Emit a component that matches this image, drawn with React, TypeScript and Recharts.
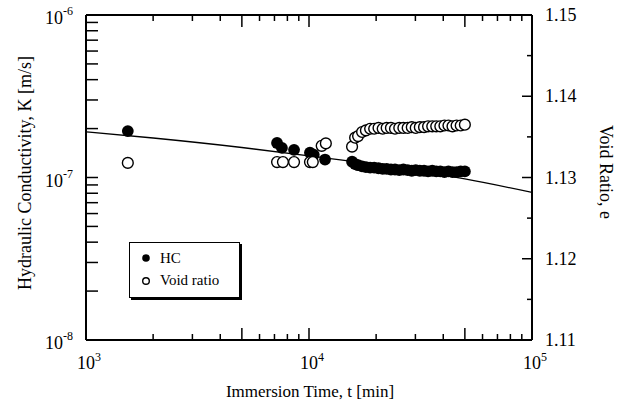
import {
  ComposedChart,
  Scatter,
  Line,
  XAxis,
  YAxis,
  ReferenceLine,
  Legend,
} from 'recharts';

const FONT = '"Liberation Serif", "Times New Roman", serif';
const PLOT = { left: 86, right: 532, top: 15, bottom: 340 };

// hydraulic conductivity (filled circles)
const hcTimes = [
  1540, 7190, 7560, 8570, 10100, 10500, 11800,
  15600, 16100, 16600, 17300, 18000, 18800, 19600, 20500, 21400, 22300,
  23300, 24300, 25400, 26500, 27700, 28900, 30100, 31400, 32800, 34200,
  35700, 37200, 38800, 40500, 42200, 44000, 45900, 47900, 50000,
];
const hcValues = [
  1.93e-7, 1.63e-7, 1.52e-7, 1.48e-7, 1.42e-7, 1.38e-7, 1.29e-7,
  1.25e-7, 1.21e-7, 1.19e-7, 1.17e-7, 1.16e-7, 1.15e-7, 1.15e-7, 1.14e-7, 1.13e-7, 1.13e-7,
  1.12e-7, 1.12e-7, 1.11e-7, 1.12e-7, 1.11e-7, 1.1e-7, 1.11e-7, 1.1e-7, 1.1e-7, 1.09e-7,
  1.1e-7, 1.09e-7, 1.09e-7, 1.08e-7, 1.09e-7, 1.08e-7, 1.08e-7, 1.09e-7, 1.09e-7,
];

// void ratio (open circles)
const voidTimes = [
  1540, 7190, 7640, 8570, 10100, 10400, 11400, 11900,
  15600, 16100, 16600, 17300, 18000, 18800, 19600, 20500, 21400, 22300,
  23300, 24300, 25400, 26500, 27700, 28900, 30100, 31400, 32800, 34200,
  35700, 37200, 38800, 40500, 42200, 44000, 45900, 47900, 50000,
];
const voidValues = [
  1.1318, 1.1319, 1.1319, 1.1319, 1.1319, 1.1319, 1.1339, 1.1342,
  1.1338, 1.1349, 1.1351, 1.1356, 1.1358, 1.136, 1.136, 1.1361, 1.136, 1.1361,
  1.1361, 1.136, 1.1361, 1.1361, 1.1361, 1.1362, 1.1361, 1.1362, 1.1362, 1.1363,
  1.1363, 1.1363, 1.1363, 1.1364, 1.1364, 1.1363, 1.1364, 1.1364, 1.1365,
];

// fitted trend line
const trendTimes = [1000, 2000, 5000, 10000, 20000, 50000, 100000];
const trendValues = [1.91e-7, 1.75e-7, 1.53e-7, 1.36e-7, 1.2e-7, 0.98e-7, 0.81e-7];

const xTicks = [
  1000, 2000, 3000, 4000, 5000, 6000, 7000, 8000, 9000,
  10000, 20000, 30000, 40000, 50000, 60000, 70000, 80000, 90000, 100000,
];
const kTicks = [
  1e-8, 2e-8, 3e-8, 4e-8, 5e-8, 6e-8, 7e-8, 8e-8, 9e-8,
  1e-7, 2e-7, 3e-7, 4e-7, 5e-7, 6e-7, 7e-7, 8e-7, 9e-7, 1e-6,
];
const eTicks = [1.11, 1.115, 1.12, 1.125, 1.13, 1.135, 1.14, 1.145, 1.15];

const legendNames = ['HC', 'Void ratio'];

const hcData = hcTimes.map((t, i) => ({ t, k: hcValues[i] }));
const voidData = voidTimes.map((t, i) => ({ t, e: voidValues[i] }));
const trendData = trendTimes.map((t, i) => ({ t, k: trendValues[i] }));

const isDecade = (v: number) => {
  const p = Math.log10(v);
  return Math.abs(p - Math.round(p)) < 1e-6;
};

function XTick({ x, payload }: any) {
  const v = payload.value;
  const exp = Math.log10(v);
  const decade = isDecade(v);
  const major = decade || Math.round(v / 10 ** Math.floor(exp + 1e-9)) === 5;
  const len = major ? 12 : 6;
  return (
    <g>
      <line x1={x} x2={x} y1={PLOT.bottom} y2={PLOT.bottom - len} stroke="#000" strokeWidth={1.5} />
      <line x1={x} x2={x} y1={PLOT.top} y2={PLOT.top + len} stroke="#000" strokeWidth={1.5} />
      {decade && (
        <text x={x - 9} y={369} fontFamily={FONT} fontSize={18} fill="#000">
          10
          <tspan fontSize={12} dy={-8}>
            {Math.round(exp)}
          </tspan>
        </text>
      )}
    </g>
  );
}

function KTick({ y, payload }: any) {
  const v = payload.value;
  return (
    <g>
      <line x1={PLOT.left} x2={PLOT.left + 12} y1={y} y2={y} stroke="#000" strokeWidth={1.5} />
      {isDecade(v) && (
        <text x={45} y={y + 9} fontFamily={FONT} fontSize={18} fill="#000">
          10
          <tspan fontSize={12} dy={-9}>
            {Math.round(Math.log10(v))}
          </tspan>
        </text>
      )}
    </g>
  );
}

function ETick({ y, payload }: any) {
  const v = payload.value;
  const major = Math.round(v * 1000) % 10 === 0;
  return (
    <g>
      <line x1={PLOT.right} x2={PLOT.right - (major ? 10 : 5)} y1={y} y2={y} stroke="#000" strokeWidth={1.5} />
      {major && (
        <text x={545} y={y + 6} fontFamily={FONT} fontSize={18} fill="#000">
          {v.toFixed(2)}
        </text>
      )}
    </g>
  );
}

function LegendBox() {
  return (
    <div
      style={{
        width: 111,
        height: 56,
        border: '1px solid #000',
        boxShadow: '2px 2px 0 #000',
        background: '#fff',
        boxSizing: 'border-box',
      }}
    >
      <svg width={109} height={54} style={{ display: 'block' }}>
        <circle cx={16} cy={15} r={3.8} fill="#000" />
        <text x={30} y={20} fontFamily={FONT} fontSize={15} fill="#000">
          {legendNames[0]}
        </text>
        <circle cx={16} cy={38} r={3.3} fill="#fff" stroke="#000" strokeWidth={1.4} />
        <text x={30} y={42} fontFamily={FONT} fontSize={15} fill="#000">
          {legendNames[1]}
        </text>
      </svg>
    </div>
  );
}

const FilledDot = (p: any) => <circle cx={p.cx} cy={p.cy} r={5.9} fill="#000" />;
const OpenDot = (p: any) => (
  <circle cx={p.cx} cy={p.cy} r={5.4} fill="#fff" stroke="#000" strokeWidth={1.4} />
);

export default function App() {
  return (
    <div style={{ position: 'fixed', left: 0, top: 0, width: 621, height: 406, background: '#fff' }}>
      <ComposedChart width={621} height={406} margin={{ top: 15, right: 0, bottom: 0, left: 0 }}>
        <XAxis
          dataKey="t"
          type="number"
          scale="log"
          domain={[1000, 100000]}
          allowDataOverflow
          ticks={xTicks}
          interval={0}
          tick={<XTick />}
          tickLine={false}
          axisLine={{ stroke: '#000', strokeWidth: 2 }}
          height={66}
        />
        <YAxis
          yAxisId="k"
          dataKey="k"
          type="number"
          scale="log"
          domain={[1e-8, 1e-6]}
          allowDataOverflow
          ticks={kTicks}
          interval={0}
          tick={<KTick />}
          tickLine={false}
          axisLine={{ stroke: '#000', strokeWidth: 2 }}
          width={86}
        />
        <YAxis
          yAxisId="e"
          dataKey="e"
          orientation="right"
          type="number"
          domain={[1.11, 1.15]}
          allowDataOverflow
          ticks={eTicks}
          interval={0}
          tick={<ETick />}
          tickLine={false}
          axisLine={{ stroke: '#000', strokeWidth: 2 }}
          width={89}
        />
        <ReferenceLine yAxisId="k" y={1e-6} stroke="#000" strokeWidth={2} />
        <Line
          data={trendData}
          dataKey="k"
          yAxisId="k"
          type="monotone"
          stroke="#000"
          strokeWidth={1.3}
          dot={false}
          legendType="none"
          isAnimationActive={false}
        />
        <Scatter name={legendNames[0]} data={hcData} yAxisId="k" shape={FilledDot} isAnimationActive={false} />
        <Scatter name={legendNames[1]} data={voidData} yAxisId="e" shape={OpenDot} isAnimationActive={false} />
        <Legend
          layout="horizontal"
          verticalAlign="middle"
          align="center"
          content={() => <LegendBox />}
          wrapperStyle={{ left: 129, top: 242, width: 111, height: 56 }}
        />
        <text x={310} y={397} textAnchor="middle" fontFamily={FONT} fontSize={17} fill="#000">
          Immersion Time, t [min]
        </text>
        <text
          x={31}
          y={173}
          transform="rotate(-90 31 173)"
          textAnchor="middle"
          fontFamily={FONT}
          fontSize={18}
          fill="#000"
        >
          Hydraulic Conductivity, K [m/s]
        </text>
        <text
          x={600}
          y={172}
          transform="rotate(90 600 172)"
          textAnchor="middle"
          fontFamily={FONT}
          fontSize={18}
          fill="#000"
        >
          Void Ratio, e
        </text>
      </ComposedChart>
    </div>
  );
}
